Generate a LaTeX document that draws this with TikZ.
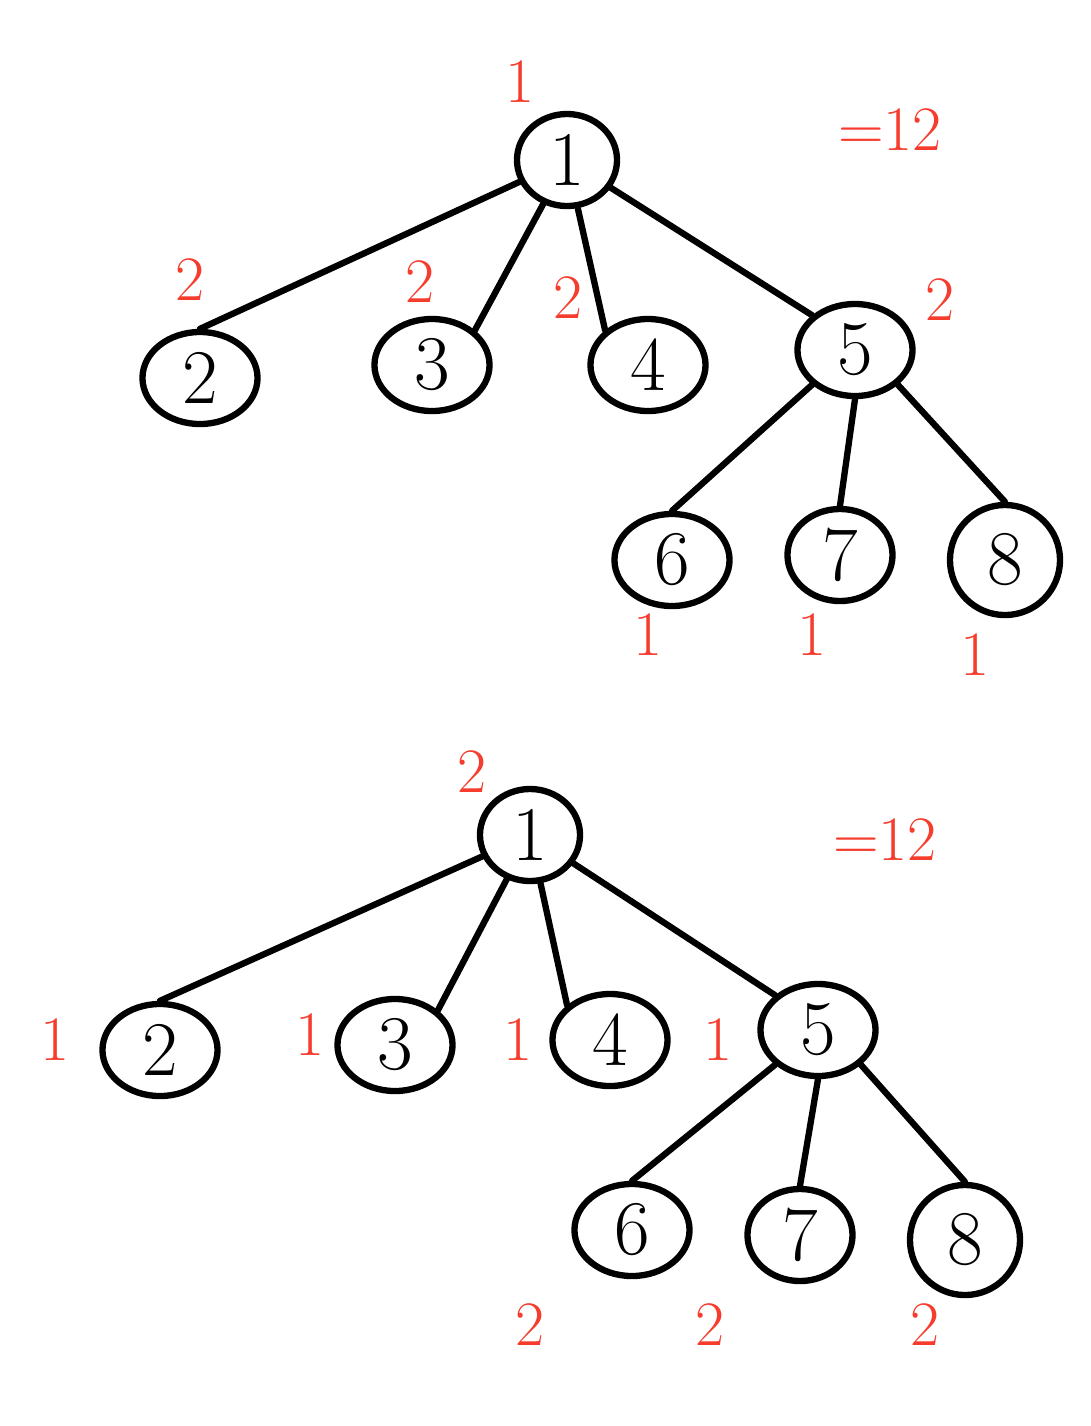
\documentclass[tikz,border=0pt]{standalone}
\usepackage{tikz}
\usetikzlibrary{shapes.geometric}
\definecolor{penred}{RGB}{245,60,45}

\begin{document}
\begin{tikzpicture}[
        x=0.01cm, y=-0.01cm,
        vertex/.style={draw, ellipse, line width=1.8pt, minimum width=1.15cm, minimum height=0.92cm, inner sep=0pt, font=\fontsize{22}{24}\selectfont},
        tally/.style={text=penred, font=\fontsize{18}{20}\selectfont},
        edge/.style={line width=1.8pt, line cap=round}
      ]
        \useasboundingbox (0,0) rectangle (1091,1426);
        % first tree
        \node[vertex, minimum width=1.0cm] (a1) at (567,160) {1};
        \node[vertex] (a2) at (200,378) {2};
        \node[vertex] (a3) at (432,365) {3};
        \node[vertex] (a4) at (648,365) {4};
        \node[vertex] (a5) at (855,350) {5};
        \node[vertex] (a6) at (672,560) {6};
        \node[vertex, minimum width=1.05cm] (a7) at (840,555) {7};
        \node[vertex, minimum width=1.1cm, minimum height=1.1cm] (a8) at (1005,560) {8};
        \foreach \x/\y in {a1/a2.north,a1/a3.north east,a1/a4.north west,a1/a5.north west,a5.south west/a6.north,a5.south/a7.north,a5.south east/a8.north} {
          \draw[edge] (\x) -- (\y);
        }
        \node[tally] (ta1) at (520,82) {1};
        \node[tally] (ta2) at (190,280) {2};
        \node[tally] (ta3) at (420,282) {2};
        \node[tally] (ta4) at (568,298) {2};
        \node[tally] (ta5) at (940,300) {2};
        \node[tally] (ta6) at (648,635) {1};
        \node[tally] (ta7) at (812,635) {1};
        \node[tally] (ta8) at (975,655) {1};
        \node[tally] (suma) at (890,130) {=12};
        % second tree
        \node[vertex, minimum width=1.0cm] (b1) at (530,835) {1};
        \node[vertex] (b2) at (160,1050) {2};
        \node[vertex] (b3) at (395,1045) {3};
        \node[vertex] (b4) at (610,1040) {4};
        \node[vertex] (b5) at (818,1030) {5};
        \node[vertex] (b6) at (632,1230) {6};
        \node[vertex, minimum width=1.05cm] (b7) at (800,1235) {7};
        \node[vertex, minimum width=1.1cm, minimum height=1.1cm] (b8) at (965,1240) {8};
        \foreach \x/\y in {b1/b2.north,b1/b3.north east,b1/b4.north west,b1/b5.north west,b5.south west/b6.north,b5.south/b7.north,b5.south east/b8.north} {
          \draw[edge] (\x) -- (\y);
        }
        \node[tally] (tb1) at (472,772) {2};
        \node[tally] (tb2) at (55,1040) {1};
        \node[tally] (tb3) at (310,1035) {1};
        \node[tally] (tb4) at (518,1040) {1};
        \node[tally] (tb5) at (718,1040) {1};
        \node[tally] (tb6) at (530,1325) {2};
        \node[tally] (tb7) at (710,1325) {2};
        \node[tally] (tb8) at (925,1325) {2};
        \node[tally] (sumb) at (885,840) {=12};
      \end{tikzpicture}
\end{document}
